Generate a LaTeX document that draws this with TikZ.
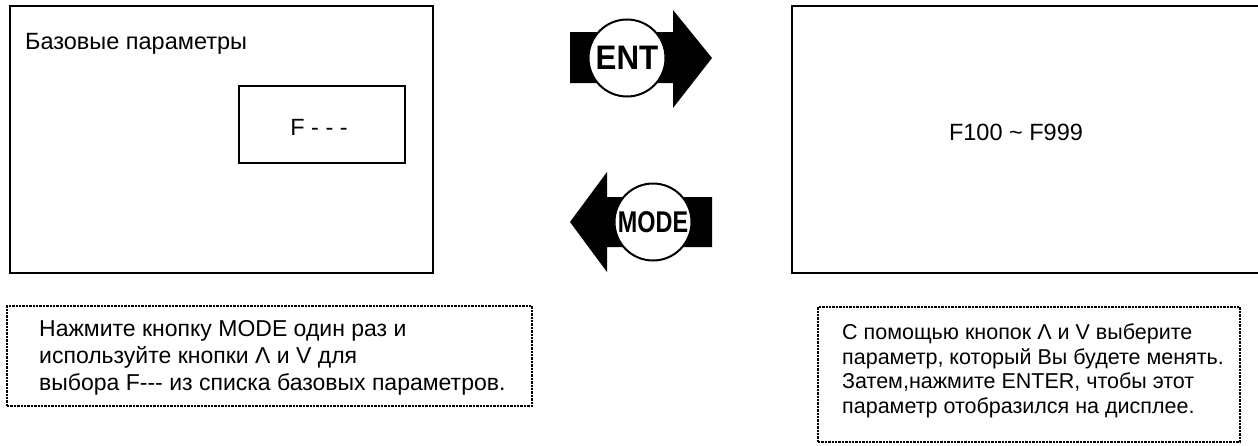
\documentclass[tikz,border=0pt]{standalone}
\usepackage{fontspec}
\usepackage{graphicx}
\setmainfont{Liberation Sans}
\begin{document}
\begin{tikzpicture}[x=1pt,y=-1pt,
  frame/.style={draw, line width=2.5pt, inner sep=0pt},
  lbl/.style={inner sep=0pt, font=\fontsize{23.5}{27}\selectfont},
  notebox/.style={draw, densely dotted, line width=2.4pt, inner sep=0pt},
  notetext/.style={align=left, inner sep=0pt, anchor=north west},
  btn/.style={circle, draw, fill=white, line width=2pt, minimum size=77pt, inner sep=0pt},
  btnarrow/.style={fill=black}]
\useasboundingbox (0,0) rectangle (1258,445);
% left display
\node[frame, minimum width=423pt, minimum height=267pt] (lbox) at (221.5,139.5) {};
\node[lbl, anchor=base west] (title) at (25,49) {Базовые параметры};
\node[frame, minimum width=166pt, minimum height=77pt] (fbox) at (322,124.5) {};
\node[lbl] (fdash) at (319,127) {F - - -};
% right display (cut at the right edge)
\draw[line width=2.5pt] (1262,6) -- (792,6) -- (792,273) -- (1262,273);
\node[lbl] (range) at (1016,132) {F100 \textasciitilde{} F999};
% ENT arrow
\fill[btnarrow] (570,32) -- (673,32) -- (673,10) -- (712,58) -- (673,108) -- (673,83) -- (570,83) -- cycle;
\node[btn] (ent) at (627,58) {\fontsize{34}{34}\selectfont\bfseries\scalebox{0.92}[1]{ENT}};
% MODE arrow
\fill[btnarrow] (570,222) -- (607,172) -- (607,197) -- (712,197) -- (712,247) -- (607,247) -- (607,272) -- cycle;
\node[btn] (mode) at (653,222) {\fontsize{30}{30}\selectfont\bfseries\scalebox{0.78}[1]{MODE}};
% notes
\node[notebox, minimum width=525pt, minimum height=100pt] (lnotebox) at (269.5,356) {};
\node[notetext, font=\fontsize{23}{27}\selectfont] (lnote) at (39,320.2)
  {Нажмите кнопку MODE один раз и\\используйте кнопки Λ и V для\\выбора F{-}{-}{-} из списка базовых параметров.};
\node[notebox, minimum width=422pt, minimum height=135pt] (rnotebox) at (1029,374.5) {};
\node[notetext, font=\fontsize{21.5}{24.5}\selectfont] (rnote) at (842,324)
  {С помощью кнопок Λ и V выберите\\параметр, который Вы будете менять.\\Затем,нажмите ENTER, чтобы этот\\параметр отобразился на дисплее.};
\end{tikzpicture}
\end{document}
